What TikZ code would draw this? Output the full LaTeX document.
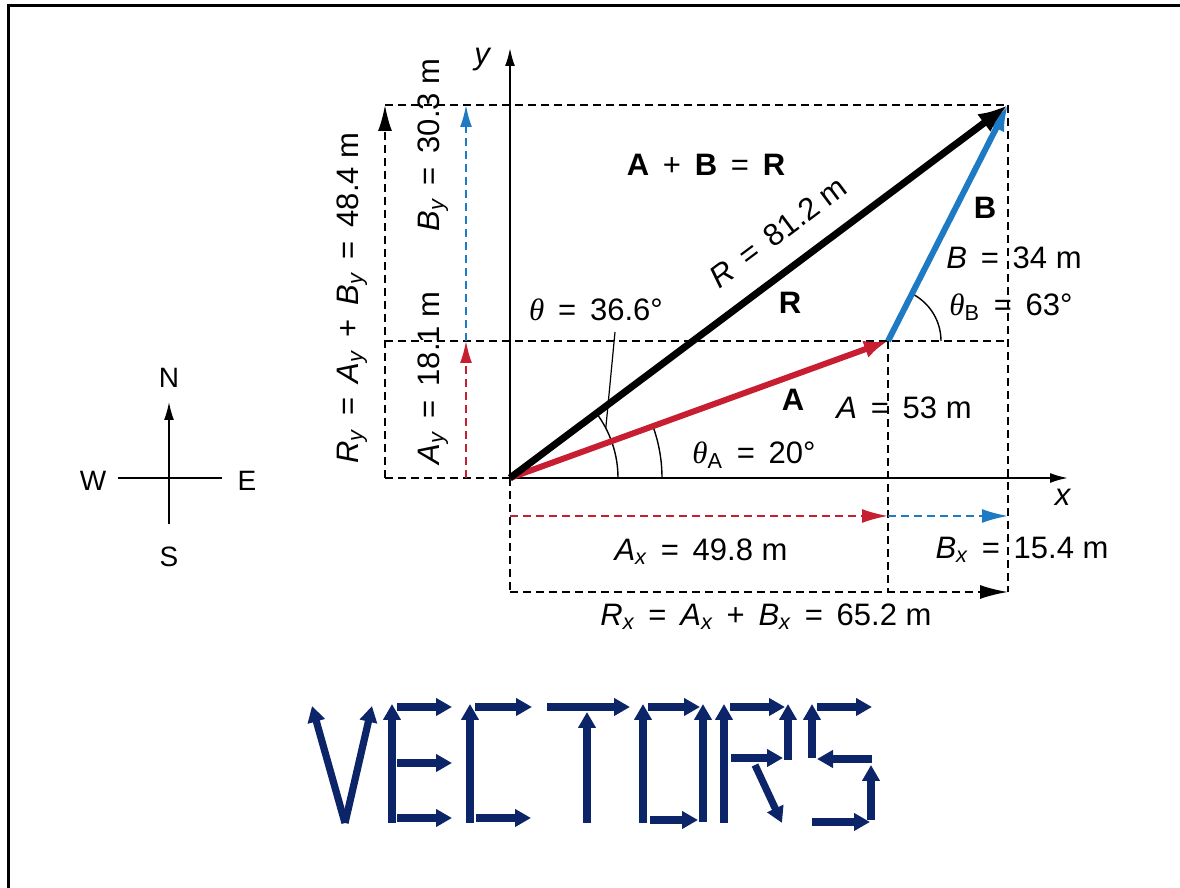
\documentclass[tikz,border=0pt]{standalone}
\usepackage{fontspec}
\setmainfont{Liberation Sans}
\newfontfamily\thetafont{Liberation Serif}
\usetikzlibrary{arrows.meta}
\definecolor{vred}{RGB}{200,30,50}
\definecolor{vblue}{RGB}{30,122,195}
\definecolor{vnavy}{RGB}{12,36,104}
\newcommand{\thet}{{\thetafont\itshape θ}}
\newcommand{\sy}{\textsubscript{\itshape y}}
\newcommand{\sx}{\textsubscript{\itshape x}}
\newcommand{\eqs}{\ \,=\,\ }
\newcommand{\pls}{\ \,+\,\ }

\begin{document}
\begin{tikzpicture}[x=0.5pt,y=0.5pt,
  lbl/.style={font=\fontsize{15.5}{18}\selectfont, inner sep=1pt},
  cmp/.style={font=\fontsize{14}{16}\selectfont, inner sep=1pt},
  dsh/.style={dash pattern=on 4pt off 2.5pt, line width=1pt},
  thin arc/.style={line width=0.7pt},
  letter/.style={vnavy, line width=3.6pt, -{Triangle[length=8pt,width=8.5pt]}}]
\useasboundingbox (0,0) rectangle (1180,888);
\draw[line width=1.5pt] (8,0) -- (8,882) -- (1180,882);

% compass
\coordinate (cS) at (169,364);
\coordinate (cN) at (169,486);
\coordinate (cW) at (118,410);
\coordinate (cE) at (222,410);
\draw[line width=0.8pt,-{Latex[length=9pt,width=5pt]}] (cS) -- (cN);
\draw[line width=0.8pt] (cW) -- (cE);
\node[cmp] (n) at (169,510) {N};
\node[cmp] (w) at (93,407) {W};
\node[cmp] (e) at (247,407) {E};
\node[cmp] (s) at (169,331) {S};

% points
\coordinate (O) at (510,410);
\coordinate (Ap) at (888,547);
\coordinate (Rp) at (1008,783);
\coordinate (yend) at (510,840);
\coordinate (xend) at (1068,410);
\coordinate (L0) at (385,410);
\coordinate (L1) at (385,547);
\coordinate (L2) at (385,783);
\coordinate (M0) at (466,410);
\coordinate (M1) at (466,547);
\coordinate (M2) at (466,783);
\coordinate (B0) at (510,296);
\coordinate (B1) at (888,296);
\coordinate (B2) at (1008,296);
\coordinate (C1) at (1008,547);
\coordinate (H0) at (510,372);
\coordinate (H1) at (888,372);
\coordinate (H2) at (1008,372);

% dashed guides
\draw[dsh] (L2) -- (Rp);
\draw[dsh] (L1) -- (C1);
\draw[dsh] (L0) -- (O);
\draw[dsh] (Rp) -- (B2);
\draw[dsh] (Ap) -- (B1);
\draw[dsh] (O) -- (B0);
\draw[dsh,-{Latex[length=14pt,width=7pt]}] (B0) -- (B2);
\draw[dsh,-{Latex[length=13pt,width=7pt]}] (L0) -- (L2);
\draw[dsh,vred,-{Latex[length=11pt,width=6pt]}] (M0) -- (M1);
\draw[dsh,vblue,-{Latex[length=11pt,width=6pt]}] (M1) -- (M2);
\draw[dsh,vred,-{Latex[length=13pt,width=7pt]}] (H0) -- (H1);
\draw[dsh,vblue,-{Latex[length=13pt,width=7pt]}] (H1) -- (H2);

% axes
\draw[line width=1pt,-{Latex[length=9pt,width=5pt]}] (O) -- (yend);
\draw[line width=1pt,-{Latex[length=9pt,width=5pt]}] (O) -- (xend);
\node[lbl] (ylab) at (483,828) {\textit{y}};
\node[lbl] (xlab) at (1063,391) {\textit{x}};

% angles
\draw[thin arc] (O) ++(152,0) arc[start angle=0,end angle=20,radius=152];
\draw[thin arc] (O) ++(108,0) arc[start angle=0,end angle=36.8,radius=108];
\draw[thin arc] (Ap) ++(53,0) arc[start angle=0,end angle=63,radius=53];
\path (O) ++(27.5:108) coordinate (thp);
\coordinate (thq) at (615,556);
\draw[line width=0.6pt] (thq) -- (thp);

% vectors
\draw[vred,line width=3pt,-{Latex[length=12pt,width=9pt]}] (O) -- (Ap);
\draw[vblue,line width=3pt,-{Latex[length=13pt,width=9pt]}] (Ap) -- (Rp);
\draw[line width=3.5pt,-{Latex[length=15pt,width=11pt]}] (O) -- (Rp);

% labels
\node[lbl,rotate=90] (ry) at (352,590) {\textit{R}\sy\eqs\textit{A}\sy\pls\textit{B}\sy\eqs48.4 m};
\node[lbl,rotate=90] (ay) at (433,510) {\textit{A}\sy\eqs18.1 m};
\node[lbl,rotate=90] (by) at (433,743) {\textit{B}\sy\eqs30.3 m};
\node[lbl] (sum) at (706,723) {\textbf{A}\pls\textbf{B}\eqs\textbf{R}};
\node[lbl,rotate=36.8] (rmag) at (778,656) {\textit{R}\eqs81.2 m};
\node[lbl] (rv) at (790,585) {\textbf{R}};
\node[lbl] (th) at (596,578) {\thet\eqs36.6°};
\node[lbl] (bv) at (985,680) {\textbf{B}};
\node[lbl] (bmag) at (1014,630) {\textit{B}\eqs34 m};
\node[lbl] (thb) at (1011,581) {\thet\textsubscript{B}\eqs63°};
\node[lbl] (av) at (793,488) {\textbf{A}};
\node[lbl] (amag) at (904,480) {\textit{A}\eqs53 m};
\node[lbl] (tha) at (754,433) {\thet\textsubscript{A}\eqs20°};
\node[lbl] (ax) at (701,336) {\textit{A}\sx\eqs49.8 m};
\node[lbl] (bx) at (1022,338) {\textit{B}\sx\eqs15.4 m};
\node[lbl] (rx) at (766,271) {\textit{R}\sx\eqs\textit{A}\sx\pls\textit{B}\sx\eqs65.2 m};

% VECTORS
\draw[letter] (345,65) -- (312,182);
\draw[letter] (345,65) -- (372,182);
\draw[letter] (392,65) -- (392,184);
\draw[letter] (397,181) -- (452,181);
\draw[letter] (397,125) -- (452,125);
\draw[letter] (397,70) -- (452,70);
\draw[letter] (470,65) -- (470,184);
\draw[letter] (475,181) -- (532,181);
\draw[letter] (476,70) -- (531,70);
\draw[letter] (547,181) -- (630,181);
\draw[letter] (587,65) -- (587,176);
\draw[letter] (643,65) -- (643,184);
\draw[letter] (648,181) -- (700,181);
\draw[letter] (703,66) -- (703,184);
\draw[letter] (650,68) -- (698,68);
\draw[letter] (724,65) -- (724,184);
\draw[letter] (730,181) -- (785,181);
\draw[letter] (788,128) -- (788,184);
\draw[letter] (731,130) -- (783,130);
\draw[letter] (755,123) -- (782,65);
\draw[letter] (817,181) -- (872,181);
\draw[letter] (812,130) -- (812,184);
\draw[letter] (872,129) -- (817,129);
\draw[letter] (871,68) -- (871,123);
\draw[letter] (812,66) -- (870,66);
\end{tikzpicture}
\end{document}
